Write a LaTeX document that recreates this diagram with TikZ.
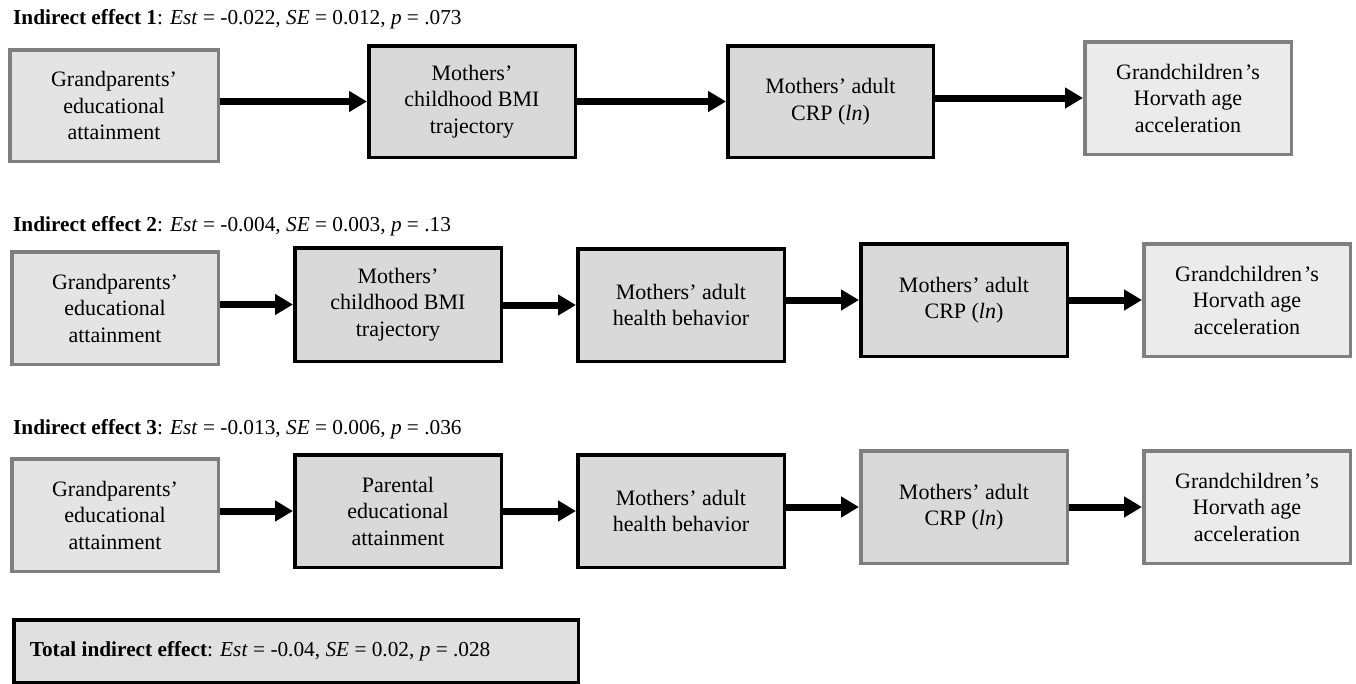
\documentclass[tikz,border=0pt]{standalone}
\usepackage{fontspec}
\setmainfont{Liberation Serif}
\usetikzlibrary{arrows.meta}
\definecolor{midfill}{HTML}{D9D9D9}
\definecolor{startfill}{HTML}{E4E4E4}
\definecolor{endfill}{HTML}{EBEBEB}
\definecolor{totfill}{HTML}{E0E0E0}
\definecolor{grayline}{HTML}{7F7F7F}
\newcommand\gch{Grandchildren\kern2pt’s}
\begin{document}
\begin{tikzpicture}[x=1pt,y=-1pt,
  bx/.style={draw, line width=3.5pt, align=center, inner sep=0pt,
    font=\fontsize{22}{26.5}\selectfont, minimum width=206.5pt, minimum height=112.5pt},
  blackbox/.style={bx, draw=black, fill=midfill},
  graystart/.style={bx, draw=grayline, fill=startfill},
  grayend/.style={bx, draw=grayline, fill=endfill},
  graymid/.style={bx, draw=grayline, fill=midfill},
  ttl/.style={anchor=base west, inner sep=0pt, font=\fontsize{21.3}{25}\selectfont},
  arr/.style={line width=7pt, -{Triangle[length=18pt,width=20pt]}}
]
\useasboundingbox (0,0) rectangle (1356,683);

% Row 1
\node[ttl] (t1) at (13,24) {\textbf{Indirect effect 1}: \textit{Est} = -0.022, \textit{SE} = 0.012, \textit{p} = .073};
\node[graystart, minimum width=208.5pt, minimum height=111.5pt] (a1) at (114,105.5) {Grandparents’\\educational\\attainment};
\node[blackbox, minimum height=111.5pt] (b1) at (472,101.5) {Mothers’\\childhood BMI\\trajectory};
\node[blackbox, minimum width=205.5pt, minimum height=111.5pt] (c1) at (830.5,101.5) {Mothers’ adult\\CRP (\textit{ln})};
\node[grayend] (d1) at (1188,98) {\gch\\Horvath age\\acceleration};
\draw[arr] (a1.east |- b1.west) -- (b1.west);
\draw[arr] (b1.east |- c1.west) -- (c1.west);
\draw[arr] (c1.east |- d1.west) -- (d1.west);

% Row 2
\node[ttl] (t2) at (13,231) {\textbf{Indirect effect 2}: \textit{Est} = -0.004, \textit{SE} = 0.003, \textit{p} = .13};
\node[graystart] (a2) at (115,308) {Grandparents’\\educational\\attainment};
\node[blackbox, minimum height=113.5pt] (b2) at (398,304.5) {Mothers’\\childhood BMI\\trajectory};
\node[blackbox] (c2) at (681,305) {Mothers’ adult\\health behavior};
\node[blackbox] (d2) at (964,300) {Mothers’ adult\\CRP (\textit{ln})};
\node[grayend] (e2) at (1247,300) {\gch\\Horvath age\\acceleration};
\draw[arr] (a2.east |- b2.west) -- (b2.west);
\draw[arr] (b2.east |- c2.west) -- (c2.west);
\draw[arr] (c2.east |- d2.west) -- (d2.west);
\draw[arr] (d2.east |- e2.west) -- (e2.west);

% Row 3
\node[ttl] (t3) at (13,434) {\textbf{Indirect effect 3}: \textit{Est} = -0.013, \textit{SE} = 0.006, \textit{p} = .036};
\node[graystart] (a3) at (115,515) {Grandparents’\\educational\\attainment};
\node[blackbox] (b3) at (398,511) {Parental\\educational\\attainment};
\node[blackbox] (c3) at (681,511) {Mothers’ adult\\health behavior};
\node[graymid] (d3) at (964,507) {Mothers’ adult\\CRP (\textit{ln})};
\node[grayend] (e3) at (1247,507) {\gch\\Horvath age\\acceleration};
\draw[arr] (a3.east |- b3.west) -- (b3.west);
\draw[arr] (b3.east |- c3.west) -- (c3.west);
\draw[arr] (c3.east |- d3.west) -- (d3.west);
\draw[arr] (d3.east |- e3.west) -- (e3.west);

% Total
\node[draw=black, fill=totfill, line width=3.5pt, minimum width=564.5pt, minimum height=62.5pt,
  inner xsep=16pt, inner ysep=0pt,
  font=\fontsize{21.3}{25}\selectfont] (tot) at (296,651)
  {\makebox[532.5pt][l]{\textbf{Total indirect effect}: \textit{Est} = -0.04, \textit{SE} = 0.02, \textit{p} = .028}};
\end{tikzpicture}
\end{document}
